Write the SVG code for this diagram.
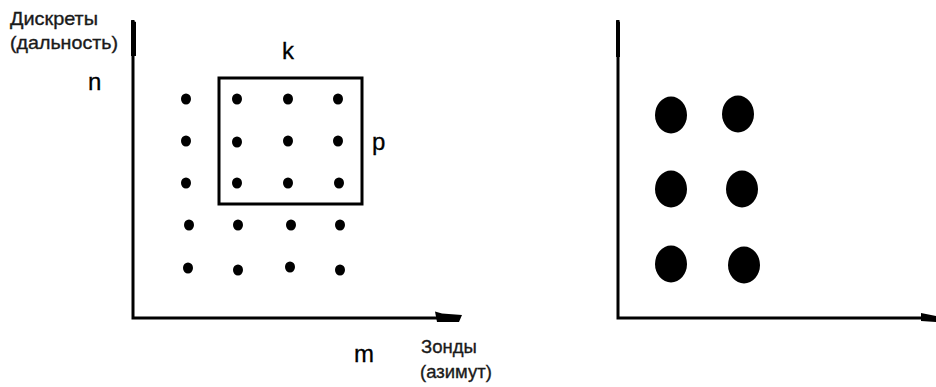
<svg xmlns="http://www.w3.org/2000/svg" width="936" height="387" viewBox="0 0 936 387">
<style>
.ax{stroke:#000;stroke-width:3;fill:none}
.hd{fill:#000;stroke:none}
.lbl{font-family:"Liberation Sans",Arial,sans-serif;font-size:18.5px;fill:#1a1a1a;stroke:#1a1a1a;stroke-width:0.35}
.let{font-family:"Liberation Sans",Arial,sans-serif;font-size:24px;fill:#000;stroke:#000;stroke-width:0.3}
.d{fill:#000}
.frame{fill:none;stroke:#000;stroke-width:3}
</style>
<rect width="936" height="387" fill="#fff"/>
<g id="connectors">
  <polyline class="ax" points="133,20 133,318 440,318"/>
  <path class="hd" d="M131,20 L136,22 L136,56 L131,56 Z"/>
  <path class="hd" d="M435,311.5 L442,313.5 L462,315 L459,322 L437,322 Z"/>
  <polyline class="ax" points="618,20 618,318 925,318"/>
  <path class="hd" d="M616,20 L620,22 L620,57 L616,57 Z"/>
  <path class="hd" d="M921,313 L936,316 L936,322 L921,321 Z"/>
</g>
<g id="label-y">
  <text class="lbl" x="10" y="25" textLength="88" lengthAdjust="spacingAndGlyphs">Дискреты</text>
  <text class="lbl" x="10" y="49" textLength="108" lengthAdjust="spacingAndGlyphs">(дальность)</text>
</g>
<g id="label-x">
  <text class="lbl" x="421" y="353">Зонды</text>
  <text class="lbl" x="420" y="378">(азимут)</text>
</g>
<g id="label-n"><text class="let" x="88" y="90">n</text></g>
<g id="label-k"><text class="let" x="282" y="59">k</text></g>
<g id="label-p"><text class="let" x="372" y="150">p</text></g>
<g id="label-m"><text class="let" x="354" y="362">m</text></g>
<g id="window"><rect class="frame" x="219" y="78" width="143" height="126"/></g>
<g id="grid-dots">
  <ellipse class="d" cx="186" cy="99" rx="5" ry="5.5"/>
  <ellipse class="d" cx="237" cy="99" rx="5" ry="5.5"/>
  <ellipse class="d" cx="288" cy="99" rx="5" ry="5.5"/>
  <ellipse class="d" cx="338" cy="99" rx="5" ry="5.5"/>
  <ellipse class="d" cx="186" cy="141" rx="5" ry="5.5"/>
  <ellipse class="d" cx="237" cy="142" rx="5" ry="5.5"/>
  <ellipse class="d" cx="288" cy="141" rx="5" ry="5.5"/>
  <ellipse class="d" cx="338" cy="141" rx="5" ry="5.5"/>
  <ellipse class="d" cx="186" cy="183" rx="5" ry="5.5"/>
  <ellipse class="d" cx="237" cy="183" rx="5" ry="5.5"/>
  <ellipse class="d" cx="288" cy="183" rx="5" ry="5.5"/>
  <ellipse class="d" cx="339" cy="183" rx="5" ry="5.5"/>
  <ellipse class="d" cx="189" cy="225" rx="5" ry="5.5"/>
  <ellipse class="d" cx="238" cy="225" rx="5" ry="5.5"/>
  <ellipse class="d" cx="291" cy="225" rx="5" ry="5.5"/>
  <ellipse class="d" cx="340" cy="225" rx="5" ry="5.5"/>
  <ellipse class="d" cx="188" cy="268" rx="5" ry="5.5"/>
  <ellipse class="d" cx="238" cy="270" rx="5" ry="5.5"/>
  <ellipse class="d" cx="290" cy="267" rx="5" ry="5.5"/>
  <ellipse class="d" cx="340" cy="270" rx="5" ry="5.5"/>
</g>
<g id="result-dots">
  <ellipse class="d" cx="671" cy="115" rx="16" ry="18.5"/>
  <ellipse class="d" cx="738" cy="114" rx="16" ry="18.5"/>
  <ellipse class="d" cx="671" cy="189" rx="16" ry="18.5"/>
  <ellipse class="d" cx="742" cy="189" rx="16" ry="18.5"/>
  <ellipse class="d" cx="671" cy="264" rx="16" ry="18.5"/>
  <ellipse class="d" cx="744" cy="265" rx="16" ry="18.5"/>
</g>
</svg>
